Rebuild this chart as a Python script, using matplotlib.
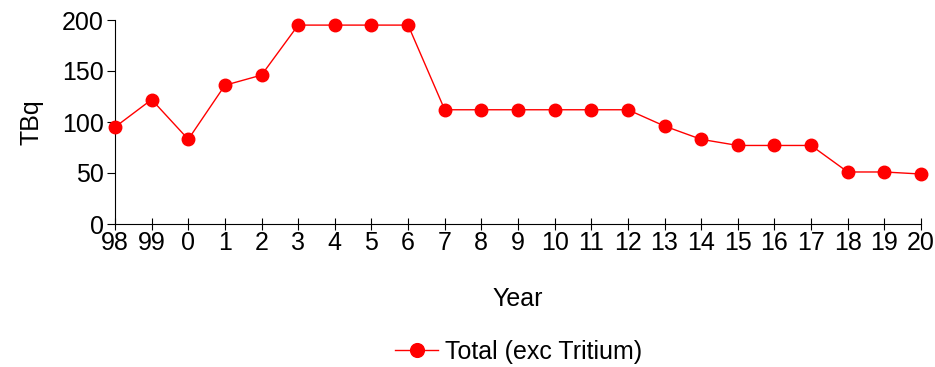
import matplotlib.pyplot as plt

plt.rcParams['font.family'] = ['Liberation Sans', 'DejaVu Sans']

years = ['98', '99', '0', '1', '2', '3', '4', '5', '6', '7', '8', '9', '10',
         '11', '12', '13', '14', '15', '16', '17', '18', '19', '20']
total = [95, 122, 83, 136, 146, 195, 195, 195, 195, 112, 112, 112, 112,
         112, 112, 96, 83, 77, 77, 77, 51, 51, 49]

fig = plt.figure(figsize=(9.35, 3.67), dpi=100)
ax = fig.add_axes([115/935, 1 - 224/367, (921-115)/935, (224-20)/367])

x = list(range(len(years)))
ax.plot(x, total, color='#ff0000', lw=1, marker='o', ms=9,
        label='Total (exc Tritium)', clip_on=False, zorder=3)

ax.set_xlim(0, len(years) - 1)
ax.set_ylim(0, 200)
ax.set_xticks(x)
ax.set_xticklabels(years)
ax.set_yticks([0, 50, 100, 150, 200])
ax.tick_params(axis='x', direction='inout', length=8, labelsize=18, pad=1)
ax.tick_params(axis='y', direction='out', length=6, labelsize=18, pad=2)
for s in ['top', 'right']:
    ax.spines[s].set_visible(False)
ax.set_xlabel('Year', fontsize=18, labelpad=23)
ax.set_ylabel('TBq', fontsize=18, labelpad=13)

fig.legend(loc='center', bbox_to_anchor=(0.555, 1 - 352/367), frameon=False,
           fontsize=18, handlelength=1.7, handletextpad=0.3, markerscale=1.1)

fig.savefig('out.png', dpi=100)
